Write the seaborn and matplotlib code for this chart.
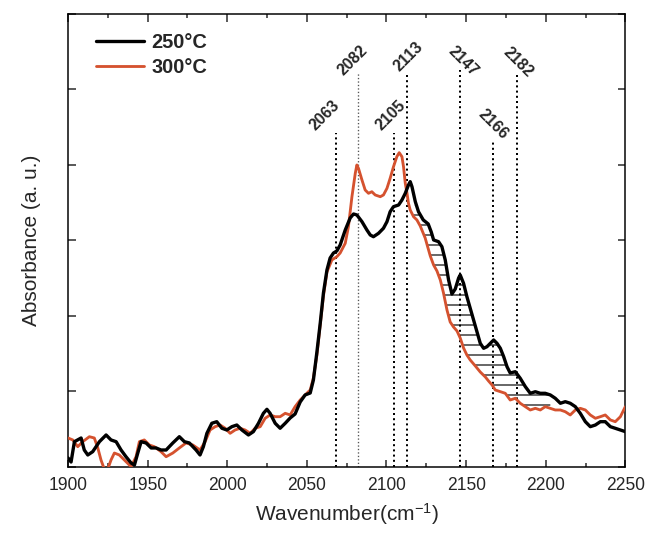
import matplotlib.pyplot as plt
import numpy as np
import seaborn as sns

# 250 C spectrum (black)
wn_250 = [1900.0, 1901.9, 1904.0, 1908.2, 1910.2, 1912.4, 1915.5, 1919.7, 1923.9, 1927.0,
          1930.2, 1933.3, 1936.4, 1939.6, 1941.7, 1943.8, 1945.9, 1949.0, 1952.2, 1955.3,
          1958.4, 1961.6, 1965.8, 1969.9, 1973.1, 1976.2, 1980.4, 1982.9, 1985.0, 1987.2,
          1990.3, 1993.4, 1996.6, 1999.7, 2002.9, 2006.0, 2009.2, 2013.3, 2016.4, 2019.6,
          2022.7, 2024.9, 2026.9, 2030.1, 2033.2, 2036.4, 2039.5, 2042.6, 2045.8, 2048.9,
          2052.1, 2054.1, 2056.3, 2058.4, 2060.4, 2062.6, 2064.6, 2066.7, 2068.8, 2070.9,
          2074.1, 2077.2, 2079.3, 2081.4, 2084.6, 2087.7, 2089.8, 2091.8, 2095.0, 2098.1,
          2100.3, 2102.3, 2104.4, 2107.6, 2109.7, 2111.8, 2113.8, 2114.9, 2116.0, 2118.1,
          2120.1, 2123.1, 2126.2, 2128.1, 2129.6, 2132.7, 2134.8, 2136.9, 2139.0, 2141.1,
          2143.2, 2145.3, 2146.3, 2148.4, 2150.5, 2152.6, 2154.7, 2156.8, 2158.9, 2161.0,
          2163.1, 2165.2, 2167.3, 2169.4, 2171.5, 2173.6, 2175.7, 2177.7, 2180.9, 2184.0,
          2187.2, 2190.3, 2193.5, 2196.6, 2199.7, 2202.9, 2206.0, 2209.2, 2212.3, 2215.4,
          2218.6, 2221.7, 2224.9, 2228.0, 2231.2, 2234.3, 2237.4, 2240.6, 2243.7, 2246.9,
          2250.0]
abs_250 = [0.12, 0.066, 0.335, 0.384, 0.225, 0.159, 0.203, 0.335, 0.424, 0.358,
           0.335, 0.225, 0.136, 0.053, 0.026, 0.185, 0.335, 0.318, 0.252, 0.252,
           0.225, 0.225, 0.318, 0.401, 0.335, 0.318, 0.225, 0.159, 0.269, 0.446,
           0.579, 0.600, 0.513, 0.490, 0.534, 0.556, 0.490, 0.424, 0.468, 0.579,
           0.711, 0.764, 0.711, 0.579, 0.513, 0.579, 0.649, 0.702, 0.861, 0.954,
           0.980, 1.152, 1.523, 1.907, 2.305, 2.609, 2.768, 2.834, 2.861, 2.940,
           3.139, 3.298, 3.351, 3.338, 3.249, 3.139, 3.073, 3.050, 3.095, 3.162,
           3.249, 3.381, 3.448, 3.470, 3.536, 3.625, 3.735, 3.779, 3.713, 3.514,
           3.381, 3.272, 3.219, 3.113, 3.007, 2.984, 2.918, 2.742, 2.477, 2.291,
           2.358, 2.503, 2.543, 2.433, 2.256, 2.102, 1.947, 1.792, 1.638, 1.572,
           1.593, 1.638, 1.682, 1.638, 1.572, 1.461, 1.328, 1.245, 1.262, 1.175,
           1.064, 0.976, 0.997, 0.976, 0.976, 0.954, 0.910, 0.844, 0.865, 0.844,
           0.799, 0.711, 0.600, 0.534, 0.556, 0.600, 0.600, 0.534, 0.513, 0.490,
           0.468]

# 300 C spectrum (red)
wn_300 = [1900.0, 1903.0, 1906.1, 1909.2, 1913.4, 1916.5, 1918.7, 1920.7, 1922.8, 1924.9,
          1927.0, 1929.1, 1932.2, 1936.4, 1939.6, 1942.7, 1944.8, 1947.9, 1951.1, 1954.2,
          1958.4, 1961.6, 1965.8, 1969.9, 1974.1, 1978.4, 1982.9, 1986.1, 1989.2, 1992.4,
          1995.5, 1998.7, 2001.8, 2004.9, 2008.1, 2011.2, 2014.4, 2017.5, 2020.7, 2023.8,
          2026.9, 2030.1, 2033.2, 2036.4, 2039.5, 2042.6, 2045.8, 2048.9, 2052.1, 2054.1,
          2056.3, 2058.4, 2060.4, 2062.6, 2065.7, 2068.8, 2070.9, 2074.1, 2076.1, 2078.3,
          2080.4, 2081.4, 2082.4, 2084.6, 2086.6, 2088.7, 2090.8, 2092.9, 2096.1, 2098.1,
          2100.3, 2102.3, 2104.4, 2106.5, 2108.0, 2109.7, 2110.7, 2111.8, 2112.9, 2113.8,
          2114.9, 2117.0, 2119.1, 2121.2, 2124.3, 2127.5, 2129.6, 2131.7, 2133.8, 2135.8,
          2138.0, 2140.0, 2142.1, 2144.3, 2146.3, 2148.4, 2150.5, 2152.6, 2155.8, 2158.9,
          2162.1, 2164.1, 2166.3, 2168.3, 2171.5, 2174.6, 2177.7, 2180.9, 2184.0, 2187.2,
          2190.3, 2193.5, 2196.6, 2199.7, 2202.9, 2206.0, 2209.2, 2212.3, 2215.4, 2218.6,
          2221.7, 2224.9, 2228.0, 2231.2, 2234.3, 2237.4, 2240.6, 2243.7, 2246.9, 2250.0]
abs_300 = [0.384, 0.358, 0.269, 0.335, 0.401, 0.384, 0.252, 0.093, -0.03, -0.03,
           0.093, 0.185, 0.159, 0.070, 0.004, 0.136, 0.335, 0.358, 0.291, 0.269,
           0.203, 0.136, 0.185, 0.252, 0.318, 0.291, 0.225, 0.335, 0.490, 0.534,
           0.556, 0.513, 0.446, 0.490, 0.513, 0.490, 0.446, 0.513, 0.534, 0.645,
           0.689, 0.666, 0.666, 0.711, 0.689, 0.799, 0.887, 0.954, 1.020, 1.179,
           1.483, 1.881, 2.265, 2.583, 2.742, 2.785, 2.834, 2.963, 3.183, 3.580,
           3.890, 4.000, 3.956, 3.801, 3.669, 3.625, 3.646, 3.603, 3.580, 3.603,
           3.691, 3.824, 3.977, 4.110, 4.163, 4.110, 3.977, 3.758, 3.625, 3.493,
           3.404, 3.315, 3.272, 3.192, 3.033, 2.795, 2.675, 2.596, 2.477, 2.305,
           2.079, 1.921, 1.854, 1.801, 1.709, 1.576, 1.483, 1.417, 1.338, 1.258,
           1.192, 1.139, 1.086, 1.020, 0.997, 0.976, 0.887, 0.910, 0.844, 0.799,
           0.755, 0.777, 0.755, 0.799, 0.777, 0.755, 0.755, 0.732, 0.689, 0.755,
           0.777, 0.755, 0.689, 0.645, 0.666, 0.689, 0.623, 0.600, 0.666, 0.799]

# marked bands
peak_labels = ["2063", "2082", "2105", "2113", "2147", "2166", "2182"]
peak_lines = [2068, 2082, 2105, 2113, 2146, 2167, 2182]
line_tops = [4.42, 5.22, 4.42, 5.20, 5.26, 4.30, 5.20]
label_x = [2061, 2079, 2102.5, 2114, 2148, 2167, 2183]
label_y = [4.42, 5.15, 4.42, 5.20, 5.14, 4.30, 5.13]
label_rot = [45, 45, 45, 45, -45, -45, -45]

hatch_range = (2117, 2203)

sns.set_style("ticks")
plt.rcParams["font.family"] = ["Liberation Sans", "DejaVu Sans"]
plt.rcParams["mathtext.default"] = "regular"
plt.rcParams["hatch.linewidth"] = 0.7

fig = plt.figure(figsize=(5.4, 538 / 120), dpi=120)
ax = fig.add_axes([0.105, 0.132, 0.860, 0.842])

red = "#d5522f"
sns.lineplot(x=wn_300, y=abs_300, color=red, lw=1.7, estimator=None, ax=ax, zorder=3)
sns.lineplot(x=wn_250, y=abs_250, color="black", lw=2.0, estimator=None, ax=ax, zorder=4)

# hatched difference region between the two spectra
wb, ab = np.array(wn_250), np.array(abs_250)
wr, ar = np.array(wn_300), np.array(abs_300)
mb = (wb >= hatch_range[0]) & (wb <= hatch_range[1])
mr = (wr >= hatch_range[0]) & (wr <= hatch_range[1])
px = np.concatenate([wb[mb], wr[mr][::-1]])
py = np.concatenate([ab[mb], ar[mr][::-1]])
ax.fill(px, py, facecolor="none", edgecolor="black", hatch="--", linewidth=0, zorder=2)

for i, lab in enumerate(peak_labels):
    lw = 0.8 if lab == "2082" else 1.2
    col = "#555555" if lab == "2082" else "black"
    ax.plot([peak_lines[i], peak_lines[i]], [0, line_tops[i]], color=col, lw=lw,
            ls=(0, (1, 1.6)), zorder=1)
    ax.text(label_x[i], label_y[i], lab, rotation=label_rot[i], ha="center", va="bottom",
            fontsize=9.5, fontweight="bold")

ax.set_xlim(1900, 2250)
ax.set_ylim(0, 6)
ax.set_xticks(np.arange(1900, 2251, 50))
ax.set_xticks(np.arange(1925, 2250, 50), minor=True)
ax.set_yticks(np.arange(0, 7, 1))
ax.set_yticklabels([])
ax.tick_params(which="both", direction="in", top=True, right=True, width=0.9)
ax.tick_params(which="major", length=4.5, labelsize=10.5, pad=6)
ax.tick_params(which="minor", length=2.5)
for s in ax.spines.values():
    s.set_linewidth(0.9)
    s.set_color("black")

ax.set_xlabel("Wavenumber(cm$^{-1}$)", fontsize=12.5)
ax.set_ylabel("Absorbance (a. u.)", fontsize=12.5, labelpad=10)

handles = [plt.Line2D([], [], color="black", lw=2.0), plt.Line2D([], [], color=red, lw=1.7)]
ax.legend(handles, ["250°C", "300°C"], loc="upper left", bbox_to_anchor=(0.035, 0.975),
          borderaxespad=0, frameon=False, prop={"weight": "bold", "size": 12},
          handlelength=2.4, handletextpad=0.4, labelspacing=0.3)

fig.savefig("out.png", dpi=120)
